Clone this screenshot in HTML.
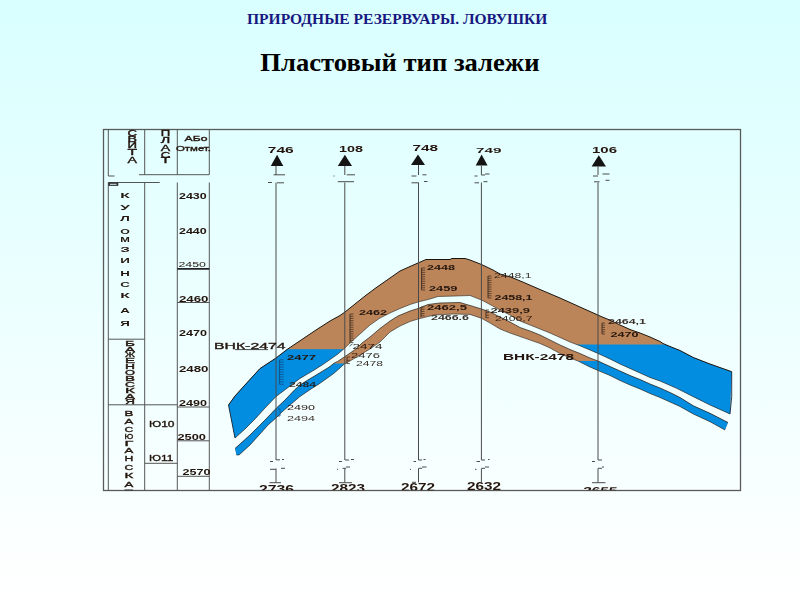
<!DOCTYPE html>
<html><head><meta charset="utf-8">
<style>
html,body{margin:0;padding:0;}
body{width:800px;height:600px;overflow:hidden;background:linear-gradient(to bottom,#d9ffff 0%,#ffffff 100%);font-family:"Liberation Serif",serif;position:relative;}
.t{position:absolute;left:0;width:800px;text-align:center;font-weight:bold;white-space:nowrap;}
#t1{top:9.9px;font-size:14px;color:#17177f;line-height:20px;}
#t1 span{display:inline-block;transform:translateX(-3.2px) scaleX(1.109);}
#t2{top:44.5px;font-size:26px;color:#000;line-height:36px;}
#t2 span{display:inline-block;transform:translateX(-0.5px) scaleX(1.023);}
svg{position:absolute;left:0;top:0;filter:blur(0.45px);}
</style></head><body>
<div class="t" id="t1"><span>ПРИРОДНЫЕ РЕЗЕРВУАРЫ. ЛОВУШКИ</span></div>
<div class="t" id="t2"><span>Пластовый тип залежи</span></div>
<svg id="dg" width="800" height="600" viewBox="0 0 800 600" font-family="Liberation Sans, sans-serif">
<defs>
<clipPath id="cu"><polygon points="228.5,405.0 235.0,396.0 244.0,386.0 260.0,368.5 276.0,358.0 287.0,349.5 316.0,330.0 330.0,321.0 340.0,315.5 345.0,312.0 355.0,304.0 365.0,296.0 375.0,288.5 380.0,285.0 400.0,271.0 410.0,266.5 418.0,263.0 426.0,259.5 450.0,259.5 452.0,258.5 465.0,258.5 470.0,260.0 481.5,264.5 493.0,270.0 500.0,274.0 512.0,277.5 525.0,283.0 540.0,289.5 560.0,298.0 580.0,307.0 600.0,316.0 610.0,320.2 620.0,325.0 630.0,329.5 640.0,333.0 650.0,337.0 660.0,341.5 663.0,343.5 670.0,346.5 680.0,350.5 693.3,357.5 710.0,364.0 731.7,371.7 730.0,414.0 710.0,405.0 693.3,396.7 676.7,388.3 660.0,381.0 650.0,377.5 640.0,373.0 630.0,368.5 620.0,364.0 610.0,359.0 598.0,353.5 590.0,350.0 578.0,345.0 570.0,342.0 560.0,337.5 550.0,333.0 540.0,329.0 530.0,325.0 520.0,321.0 510.0,315.0 500.0,310.0 490.0,304.5 481.5,300.0 470.0,295.5 456.0,296.0 438.0,296.5 430.0,299.0 418.0,302.0 410.0,304.5 400.0,308.5 390.0,313.0 380.0,318.0 370.0,325.0 360.0,334.0 350.0,343.0 344.3,348.6 337.5,354.3 330.0,359.6 322.5,364.7 315.0,369.5 307.5,374.0 300.0,378.4 290.0,386.0 276.0,396.5 265.0,408.0 255.0,419.0 245.0,429.0 235.0,438.0"/></clipPath>
<clipPath id="cl"><polygon points="235.0,448.5 250.0,435.0 265.0,420.0 276.5,408.0 285.0,400.0 295.0,389.5 300.0,385.0 307.5,380.2 315.0,375.7 322.5,371.2 330.0,366.5 334.0,363.2 337.5,361.5 344.3,357.0 356.0,349.0 362.0,343.0 370.0,337.0 380.0,328.5 390.0,321.0 398.0,316.0 410.0,311.0 418.0,308.5 428.0,304.5 440.0,303.0 460.0,302.5 470.0,305.5 481.5,309.0 490.0,312.0 500.0,317.0 510.0,322.0 520.0,327.5 530.0,331.0 540.0,335.0 550.0,340.0 560.0,345.0 570.0,349.5 580.0,353.5 590.0,358.0 598.0,361.0 610.0,366.5 620.0,371.0 630.0,375.5 640.0,379.5 650.0,384.0 660.0,388.0 670.0,392.5 680.0,397.5 693.3,405.8 710.0,413.3 728.0,422.5 725.0,430.0 710.0,421.7 693.3,414.0 680.0,406.5 670.0,402.0 660.0,397.5 650.0,393.5 640.0,389.0 630.0,385.0 620.0,380.5 610.0,375.5 598.0,370.5 590.0,367.0 578.0,361.0 570.0,358.0 560.0,353.5 550.0,348.0 540.0,343.5 530.0,340.0 520.0,336.5 510.0,333.0 500.0,329.0 490.0,323.0 482.0,318.5 470.0,314.4 454.0,314.0 434.0,315.0 418.0,319.0 410.0,321.5 400.0,326.0 390.0,332.0 385.0,337.0 380.0,342.0 370.0,349.0 360.0,355.0 350.0,361.0 344.3,364.0 340.5,367.5 334.0,373.3 326.0,379.0 319.0,384.0 311.0,389.0 300.0,396.5 290.0,405.0 282.0,412.0 276.0,418.0 268.0,425.0 260.0,434.0 250.0,445.0 239.0,455.0 236.5,455.0"/></clipPath>
</defs>
<rect x="103.5" y="129.5" width="637" height="361" fill="none" stroke="#5a5a5a" stroke-width="1.3"/>
<polygon points="228.5,405.0 235.0,396.0 244.0,386.0 260.0,368.5 276.0,358.0 287.0,349.5 316.0,330.0 330.0,321.0 340.0,315.5 345.0,312.0 355.0,304.0 365.0,296.0 375.0,288.5 380.0,285.0 400.0,271.0 410.0,266.5 418.0,263.0 426.0,259.5 450.0,259.5 452.0,258.5 465.0,258.5 470.0,260.0 481.5,264.5 493.0,270.0 500.0,274.0 512.0,277.5 525.0,283.0 540.0,289.5 560.0,298.0 580.0,307.0 600.0,316.0 610.0,320.2 620.0,325.0 630.0,329.5 640.0,333.0 650.0,337.0 660.0,341.5 663.0,343.5 670.0,346.5 680.0,350.5 693.3,357.5 710.0,364.0 731.7,371.7 730.0,414.0 710.0,405.0 693.3,396.7 676.7,388.3 660.0,381.0 650.0,377.5 640.0,373.0 630.0,368.5 620.0,364.0 610.0,359.0 598.0,353.5 590.0,350.0 578.0,345.0 570.0,342.0 560.0,337.5 550.0,333.0 540.0,329.0 530.0,325.0 520.0,321.0 510.0,315.0 500.0,310.0 490.0,304.5 481.5,300.0 470.0,295.5 456.0,296.0 438.0,296.5 430.0,299.0 418.0,302.0 410.0,304.5 400.0,308.5 390.0,313.0 380.0,318.0 370.0,325.0 360.0,334.0 350.0,343.0 344.3,348.6 337.5,354.3 330.0,359.6 322.5,364.7 315.0,369.5 307.5,374.0 300.0,378.4 290.0,386.0 276.0,396.5 265.0,408.0 255.0,419.0 245.0,429.0 235.0,438.0" fill="#bc8459"/>
<polygon points="235.0,448.5 250.0,435.0 265.0,420.0 276.5,408.0 285.0,400.0 295.0,389.5 300.0,385.0 307.5,380.2 315.0,375.7 322.5,371.2 330.0,366.5 334.0,363.2 337.5,361.5 344.3,357.0 356.0,349.0 362.0,343.0 370.0,337.0 380.0,328.5 390.0,321.0 398.0,316.0 410.0,311.0 418.0,308.5 428.0,304.5 440.0,303.0 460.0,302.5 470.0,305.5 481.5,309.0 490.0,312.0 500.0,317.0 510.0,322.0 520.0,327.5 530.0,331.0 540.0,335.0 550.0,340.0 560.0,345.0 570.0,349.5 580.0,353.5 590.0,358.0 598.0,361.0 610.0,366.5 620.0,371.0 630.0,375.5 640.0,379.5 650.0,384.0 660.0,388.0 670.0,392.5 680.0,397.5 693.3,405.8 710.0,413.3 728.0,422.5 725.0,430.0 710.0,421.7 693.3,414.0 680.0,406.5 670.0,402.0 660.0,397.5 650.0,393.5 640.0,389.0 630.0,385.0 620.0,380.5 610.0,375.5 598.0,370.5 590.0,367.0 578.0,361.0 570.0,358.0 560.0,353.5 550.0,348.0 540.0,343.5 530.0,340.0 520.0,336.5 510.0,333.0 500.0,329.0 490.0,323.0 482.0,318.5 470.0,314.4 454.0,314.0 434.0,315.0 418.0,319.0 410.0,321.5 400.0,326.0 390.0,332.0 385.0,337.0 380.0,342.0 370.0,349.0 360.0,355.0 350.0,361.0 344.3,364.0 340.5,367.5 334.0,373.3 326.0,379.0 319.0,384.0 311.0,389.0 300.0,396.5 290.0,405.0 282.0,412.0 276.0,418.0 268.0,425.0 260.0,434.0 250.0,445.0 239.0,455.0 236.5,455.0" fill="#bc8459"/>
<g clip-path="url(#cu)"><rect x="200" y="349.2" width="200" height="120" fill="#028de0"/><rect x="500" y="344.5" width="260" height="100" fill="#028de0"/></g>
<g clip-path="url(#cl)"><rect x="200" y="363.5" width="200" height="120" fill="#028de0"/><rect x="500" y="361" width="260" height="100" fill="#028de0"/></g>
<polyline points="228.5,405.0 235.0,396.0 244.0,386.0 260.0,368.5 276.0,358.0 287.0,349.5 316.0,330.0 330.0,321.0 340.0,315.5 345.0,312.0 355.0,304.0 365.0,296.0 375.0,288.5 380.0,285.0 400.0,271.0 410.0,266.5 418.0,263.0 426.0,259.5 450.0,259.5 452.0,258.5 465.0,258.5 470.0,260.0 481.5,264.5 493.0,270.0 500.0,274.0 512.0,277.5 525.0,283.0 540.0,289.5 560.0,298.0 580.0,307.0 600.0,316.0 610.0,320.2 620.0,325.0 630.0,329.5 640.0,333.0 650.0,337.0 660.0,341.5 663.0,343.5 670.0,346.5 680.0,350.5 693.3,357.5 710.0,364.0 731.7,371.7" fill="none" stroke="#1a140e" stroke-width="1"/>
<polyline points="228.5,405.0 235.0,438.0" fill="none" stroke="#12263c" stroke-width="0.9"/>
<polyline points="731.7,371.7 731.7,396.7 730.0,414.0" fill="none" stroke="#12263c" stroke-width="0.9"/>
<polyline points="235.0,438.0 245.0,429.0 255.0,419.0 265.0,408.0 276.0,396.5 290.0,386.0 300.0,378.4 307.5,374.0 315.0,369.5 322.5,364.7 330.0,359.6 337.5,354.3 344.3,348.6 350.0,343.0 360.0,334.0 370.0,325.0 380.0,318.0 390.0,313.0 400.0,308.5 410.0,304.5 418.0,302.0 430.0,299.0 438.0,296.5 456.0,296.0 470.0,295.5 481.5,300.0 490.0,304.5 500.0,310.0 510.0,315.0 520.0,321.0 530.0,325.0 540.0,329.0 550.0,333.0 560.0,337.5 570.0,342.0 578.0,345.0 590.0,350.0 598.0,353.5 610.0,359.0 620.0,364.0 630.0,368.5 640.0,373.0 650.0,377.5 660.0,381.0 676.7,388.3 693.3,396.7 710.0,405.0 730.0,414.0" fill="none" stroke="#1e1812" stroke-width="0.7" opacity="0.8"/>
<polyline points="235.0,448.5 250.0,435.0 265.0,420.0 276.5,408.0 285.0,400.0 295.0,389.5 300.0,385.0 307.5,380.2 315.0,375.7 322.5,371.2 330.0,366.5 334.0,363.2 337.5,361.5 344.3,357.0 356.0,349.0 362.0,343.0 370.0,337.0 380.0,328.5 390.0,321.0 398.0,316.0 410.0,311.0 418.0,308.5 428.0,304.5 440.0,303.0 460.0,302.5 470.0,305.5 481.5,309.0 490.0,312.0 500.0,317.0 510.0,322.0 520.0,327.5 530.0,331.0 540.0,335.0 550.0,340.0 560.0,345.0 570.0,349.5 580.0,353.5 590.0,358.0 598.0,361.0 610.0,366.5 620.0,371.0 630.0,375.5 640.0,379.5 650.0,384.0 660.0,388.0 670.0,392.5 680.0,397.5 693.3,405.8 710.0,413.3 728.0,422.5" fill="none" stroke="#1e1812" stroke-width="0.8" opacity="0.85"/>
<polyline points="236.5,455.0 239.0,455.0 250.0,445.0 260.0,434.0 268.0,425.0 276.0,418.0 282.0,412.0 290.0,405.0 300.0,396.5 311.0,389.0 319.0,384.0 326.0,379.0 334.0,373.3 340.5,367.5 344.3,364.0 350.0,361.0 360.0,355.0 370.0,349.0 380.0,342.0 385.0,337.0 390.0,332.0 400.0,326.0 410.0,321.5 418.0,319.0 434.0,315.0 454.0,314.0 470.0,314.4 482.0,318.5 490.0,323.0 500.0,329.0 510.0,333.0 520.0,336.5 530.0,340.0 540.0,343.5 550.0,348.0 560.0,353.5 570.0,358.0 578.0,361.0 590.0,367.0 598.0,370.5 610.0,375.5 620.0,380.5 630.0,385.0 640.0,389.0 650.0,393.5 660.0,397.5 670.0,402.0 680.0,406.5 693.3,414.0 710.0,421.7 725.0,430.0" fill="none" stroke="#1e1812" stroke-width="0.7" opacity="0.8"/>
<polygon points="277.1,154.8 270.8,165.9 283.3,165.9" fill="#141414"/>
<line x1="276" y1="165.9" x2="276" y2="175" stroke="#4a4a4a" stroke-width="1"/>
<line x1="276" y1="182.5" x2="276" y2="460" stroke="#4a4a4a" stroke-width="1"/>
<line x1="276" y1="468.5" x2="276" y2="482.5" stroke="#4a4a4a" stroke-width="1"/>
<polygon points="344.9,154.8 337.8,165.9 352,165.9" fill="#141414"/>
<line x1="344.8" y1="165.9" x2="344.8" y2="175" stroke="#4a4a4a" stroke-width="1"/>
<line x1="344.8" y1="182.5" x2="344.8" y2="460" stroke="#4a4a4a" stroke-width="1"/>
<line x1="344.8" y1="468.5" x2="344.8" y2="482.5" stroke="#4a4a4a" stroke-width="1"/>
<polygon points="418.0,154.5 411,165 425,165" fill="#141414"/>
<line x1="418.5" y1="165" x2="418.5" y2="175" stroke="#4a4a4a" stroke-width="1"/>
<line x1="418.5" y1="182.5" x2="418.5" y2="460" stroke="#4a4a4a" stroke-width="1"/>
<line x1="418.5" y1="468.5" x2="418.5" y2="482.5" stroke="#4a4a4a" stroke-width="1"/>
<polygon points="481.6,154.5 475.7,165.5 487.6,165.5" fill="#141414"/>
<line x1="481.4" y1="165.5" x2="481.4" y2="175" stroke="#4a4a4a" stroke-width="1"/>
<line x1="481.4" y1="182.5" x2="481.4" y2="460" stroke="#4a4a4a" stroke-width="1"/>
<line x1="481.4" y1="468.5" x2="481.4" y2="482.5" stroke="#4a4a4a" stroke-width="1"/>
<polygon points="598.8,155.2 591.6,166.4 606,166.4" fill="#141414"/>
<line x1="598" y1="166.4" x2="598" y2="175" stroke="#4a4a4a" stroke-width="1"/>
<line x1="598" y1="182.5" x2="598" y2="460" stroke="#4a4a4a" stroke-width="1"/>
<line x1="598" y1="468.5" x2="598" y2="482.5" stroke="#4a4a4a" stroke-width="1"/>
<line x1="273.6" y1="174.8" x2="285" y2="174.8" stroke="#4a4a4a" stroke-width="1"/>
<line x1="268" y1="182.5" x2="272" y2="182.5" stroke="#4a4a4a" stroke-width="1"/>
<line x1="277" y1="182.8" x2="284" y2="182.8" stroke="#4a4a4a" stroke-width="1"/>
<line x1="346.7" y1="174.8" x2="355" y2="174.8" stroke="#4a4a4a" stroke-width="1"/>
<line x1="337.8" y1="181.7" x2="354" y2="181.7" stroke="#4a4a4a" stroke-width="1"/>
<line x1="333.5" y1="176" x2="334.5" y2="176" stroke="#4a4a4a" stroke-width="1"/>
<line x1="411.5" y1="176" x2="416.5" y2="176" stroke="#4a4a4a" stroke-width="1"/>
<line x1="422.5" y1="174.8" x2="426.5" y2="174.8" stroke="#4a4a4a" stroke-width="1"/>
<line x1="411.5" y1="182.8" x2="418.5" y2="182.8" stroke="#4a4a4a" stroke-width="1"/>
<line x1="424" y1="181.5" x2="427.5" y2="181.5" stroke="#4a4a4a" stroke-width="1"/>
<line x1="474.5" y1="176" x2="477.5" y2="176" stroke="#4a4a4a" stroke-width="1"/>
<line x1="481.4" y1="175" x2="485" y2="175" stroke="#4a4a4a" stroke-width="1"/>
<line x1="485" y1="174" x2="489.5" y2="174" stroke="#4a4a4a" stroke-width="1"/>
<line x1="474.5" y1="182.8" x2="479" y2="182.8" stroke="#4a4a4a" stroke-width="1"/>
<line x1="483.5" y1="181.7" x2="487.5" y2="181.7" stroke="#4a4a4a" stroke-width="1"/>
<line x1="593" y1="176" x2="598" y2="176" stroke="#4a4a4a" stroke-width="1"/>
<line x1="602.5" y1="174" x2="609.5" y2="174" stroke="#4a4a4a" stroke-width="1"/>
<line x1="594" y1="181.8" x2="599.5" y2="181.8" stroke="#4a4a4a" stroke-width="1"/>
<line x1="605.5" y1="180.3" x2="609.5" y2="180.3" stroke="#4a4a4a" stroke-width="1"/>
<line x1="270" y1="461.5" x2="273" y2="461.5" stroke="#4a4a4a" stroke-width="1"/>
<line x1="276" y1="459.8" x2="280" y2="459.8" stroke="#4a4a4a" stroke-width="1"/>
<line x1="282" y1="459.5" x2="284" y2="459.5" stroke="#4a4a4a" stroke-width="1"/>
<line x1="270" y1="469.3" x2="276" y2="469.3" stroke="#4a4a4a" stroke-width="1"/>
<line x1="281" y1="468.3" x2="285" y2="468.3" stroke="#4a4a4a" stroke-width="1"/>
<line x1="269.5" y1="482.7" x2="281" y2="482.7" stroke="#4a4a4a" stroke-width="1"/>
<line x1="339" y1="461.5" x2="342" y2="461.5" stroke="#4a4a4a" stroke-width="1"/>
<line x1="345" y1="460" x2="349" y2="460" stroke="#4a4a4a" stroke-width="1"/>
<line x1="351" y1="459.5" x2="354" y2="459.5" stroke="#4a4a4a" stroke-width="1"/>
<line x1="337" y1="469.3" x2="338" y2="469.3" stroke="#4a4a4a" stroke-width="1"/>
<line x1="342.5" y1="468.3" x2="346" y2="468.3" stroke="#4a4a4a" stroke-width="1"/>
<line x1="346" y1="467" x2="350" y2="467" stroke="#4a4a4a" stroke-width="1"/>
<line x1="339" y1="482.7" x2="352" y2="482.7" stroke="#4a4a4a" stroke-width="1"/>
<line x1="413.5" y1="461.5" x2="416" y2="461.5" stroke="#4a4a4a" stroke-width="1"/>
<line x1="418.5" y1="460" x2="422" y2="460" stroke="#4a4a4a" stroke-width="1"/>
<line x1="423.5" y1="459.5" x2="425.5" y2="459.5" stroke="#4a4a4a" stroke-width="1"/>
<line x1="410" y1="469.3" x2="411" y2="469.3" stroke="#4a4a4a" stroke-width="1"/>
<line x1="418.5" y1="468.3" x2="422" y2="468.3" stroke="#4a4a4a" stroke-width="1"/>
<line x1="422" y1="467" x2="426.5" y2="467" stroke="#4a4a4a" stroke-width="1"/>
<line x1="412" y1="482.3" x2="416" y2="482.3" stroke="#4a4a4a" stroke-width="1"/>
<line x1="476.5" y1="461.5" x2="480" y2="461.5" stroke="#4a4a4a" stroke-width="1"/>
<line x1="481.4" y1="460" x2="485" y2="460" stroke="#4a4a4a" stroke-width="1"/>
<line x1="488" y1="459.5" x2="489.5" y2="459.5" stroke="#4a4a4a" stroke-width="1"/>
<line x1="475" y1="469.3" x2="476.5" y2="469.3" stroke="#4a4a4a" stroke-width="1"/>
<line x1="481.4" y1="468.3" x2="485" y2="468.3" stroke="#4a4a4a" stroke-width="1"/>
<line x1="485" y1="467" x2="489" y2="467" stroke="#4a4a4a" stroke-width="1"/>
<line x1="592" y1="461.5" x2="595" y2="461.5" stroke="#4a4a4a" stroke-width="1"/>
<line x1="598" y1="460" x2="602" y2="460" stroke="#4a4a4a" stroke-width="1"/>
<line x1="598" y1="468.3" x2="602" y2="468.3" stroke="#4a4a4a" stroke-width="1"/>
<line x1="602" y1="467" x2="604" y2="467" stroke="#4a4a4a" stroke-width="1"/>
<line x1="592" y1="482.7" x2="605.5" y2="482.7" stroke="#4a4a4a" stroke-width="1"/>
<line x1="108.3" y1="130" x2="108.3" y2="176" stroke="#555" stroke-width="1"/>
<line x1="108.3" y1="176" x2="114.5" y2="176" stroke="#555" stroke-width="1"/>
<line x1="144.7" y1="130" x2="144.7" y2="174.7" stroke="#555" stroke-width="1"/>
<line x1="177.3" y1="130" x2="177.3" y2="174.7" stroke="#555" stroke-width="1"/>
<line x1="209.3" y1="130" x2="209.3" y2="174.7" stroke="#555" stroke-width="1"/>
<line x1="139" y1="174.7" x2="209.3" y2="174.7" stroke="#555" stroke-width="1"/>
<line x1="108.3" y1="182.5" x2="108.3" y2="490.5" stroke="#555" stroke-width="1"/>
<line x1="108.3" y1="182.5" x2="159.7" y2="182.5" stroke="#555" stroke-width="1"/>
<line x1="144.7" y1="182.5" x2="144.7" y2="490.5" stroke="#555" stroke-width="1"/>
<line x1="177.3" y1="182.5" x2="177.3" y2="490.5" stroke="#555" stroke-width="1"/>
<line x1="209.3" y1="182.5" x2="209.3" y2="490.5" stroke="#555" stroke-width="1"/>
<line x1="108.3" y1="339.2" x2="144.7" y2="339.2" stroke="#555" stroke-width="1"/>
<line x1="108.3" y1="404.8" x2="177.3" y2="404.8" stroke="#555" stroke-width="1"/>
<line x1="144.7" y1="463.3" x2="177.3" y2="463.3" stroke="#555" stroke-width="1"/>
<line x1="177.3" y1="302.5" x2="209.3" y2="302.5" stroke="#555" stroke-width="1"/>
<line x1="177.3" y1="407" x2="209.3" y2="407" stroke="#555" stroke-width="1"/>
<line x1="177.3" y1="440.8" x2="209.3" y2="440.8" stroke="#555" stroke-width="1"/>
<line x1="177.3" y1="476.3" x2="209.3" y2="476.3" stroke="#555" stroke-width="1"/>
<line x1="177.3" y1="268.8" x2="209.3" y2="268.8" stroke="#222" stroke-width="1.8"/>
<rect x="108.3" y="182.3" width="10" height="3.6" fill="#333"/><rect x="110" y="183.8" width="6.5" height="1" fill="#cfeeee"/>
<text x="267.8" y="152.6" textLength="26.0" lengthAdjust="spacingAndGlyphs" font-size="9.4" font-weight="bold" fill="#24160e" opacity="1" >746</text>
<text x="339" y="152.3" textLength="24.0" lengthAdjust="spacingAndGlyphs" font-size="9.2" font-weight="bold" fill="#24160e" opacity="1" >108</text>
<text x="412.4" y="151.4" textLength="25.6" lengthAdjust="spacingAndGlyphs" font-size="9.4" font-weight="bold" fill="#24160e" opacity="1" >748</text>
<text x="476" y="153.2" textLength="25.4" lengthAdjust="spacingAndGlyphs" font-size="8" font-weight="bold" fill="#24160e" opacity="1" >749</text>
<text x="592" y="153.4" textLength="25.0" lengthAdjust="spacingAndGlyphs" font-size="9.4" font-weight="bold" fill="#24160e" opacity="1" >106</text>
<clipPath id="cb"><rect x="104" y="130" width="636" height="360.3"/></clipPath><g clip-path="url(#cb)">
<text x="259" y="493.1" textLength="35.0" lengthAdjust="spacingAndGlyphs" font-size="10" font-weight="bold" fill="#24160e" opacity="1" >2736</text>
<text x="331" y="492.1" textLength="34.0" lengthAdjust="spacingAndGlyphs" font-size="10" font-weight="bold" fill="#24160e" opacity="1" >2823</text>
<text x="401" y="491.1" textLength="34.0" lengthAdjust="spacingAndGlyphs" font-size="10" font-weight="bold" fill="#24160e" opacity="1" >2672</text>
<text x="467" y="490.1" textLength="34.0" lengthAdjust="spacingAndGlyphs" font-size="10" font-weight="bold" fill="#24160e" opacity="1" >2632</text>
<text transform="translate(582.5,493.6) skewX(-10)" x="0" y="0" textLength="34" lengthAdjust="spacingAndGlyphs" font-size="10" font-weight="bold" fill="#24160e">2655</text>
</g>
<text x="179" y="198.8" textLength="27.7" lengthAdjust="spacingAndGlyphs" font-size="8.3" font-weight="bold" fill="#24160e" opacity="1" >2430</text>
<text x="179" y="233.8" textLength="27.7" lengthAdjust="spacingAndGlyphs" font-size="8.3" font-weight="bold" fill="#24160e" opacity="1" >2440</text>
<text x="178.5" y="266.6" textLength="27.5" lengthAdjust="spacingAndGlyphs" font-size="7" font-weight="normal" fill="#24160e" opacity="1" >2450</text>
<text x="179" y="302.0" textLength="29.5" lengthAdjust="spacingAndGlyphs" font-size="8.3" font-weight="bold" fill="#24160e" opacity="1" >2460</text>
<text x="179" y="336.3" textLength="28.0" lengthAdjust="spacingAndGlyphs" font-size="8.3" font-weight="bold" fill="#24160e" opacity="1" >2470</text>
<text x="179" y="371.5" textLength="29.5" lengthAdjust="spacingAndGlyphs" font-size="8.3" font-weight="bold" fill="#24160e" opacity="1" >2480</text>
<text x="179" y="405.7" textLength="28.0" lengthAdjust="spacingAndGlyphs" font-size="8.3" font-weight="bold" fill="#24160e" opacity="1" >2490</text>
<text x="177.5" y="440.0" textLength="28.5" lengthAdjust="spacingAndGlyphs" font-size="8.3" font-weight="bold" fill="#24160e" opacity="1" >2500</text>
<text x="182.5" y="475.0" textLength="28.0" lengthAdjust="spacingAndGlyphs" font-size="8.3" font-weight="bold" fill="#24160e" opacity="1" >2570</text>
<text x="149" y="426.7" textLength="25.5" lengthAdjust="spacingAndGlyphs" font-size="8.3" font-weight="normal" fill="#24160e" opacity="1"  stroke="#24160e" stroke-width="0.35">Ю10</text>
<text x="149" y="460.5" textLength="24.3" lengthAdjust="spacingAndGlyphs" font-size="8.3" font-weight="normal" fill="#24160e" opacity="1"  stroke="#24160e" stroke-width="0.35">Ю11</text>
<text x="184.5" y="141.3" textLength="23.0" lengthAdjust="spacingAndGlyphs" font-size="8" font-weight="normal" fill="#24160e" opacity="1"  stroke="#24160e" stroke-width="0.35">АБо</text>
<text x="176" y="150.6" textLength="35.0" lengthAdjust="spacingAndGlyphs" font-size="7.6" font-weight="normal" fill="#24160e" opacity="1"  stroke="#24160e" stroke-width="0.35">Отмет.</text>
<text x="127.55000000000001" y="135.5" textLength="9.5" lengthAdjust="spacingAndGlyphs" font-size="8.2" font-weight="normal" fill="#24160e" opacity="1"  stroke="#24160e" stroke-width="0.35">С</text><text x="127.55000000000001" y="141.5" textLength="9.5" lengthAdjust="spacingAndGlyphs" font-size="8.2" font-weight="normal" fill="#24160e" opacity="1"  stroke="#24160e" stroke-width="0.35">В</text><text x="127.55000000000001" y="147.7" textLength="9.5" lengthAdjust="spacingAndGlyphs" font-size="8.2" font-weight="normal" fill="#24160e" opacity="1"  stroke="#24160e" stroke-width="0.35">И</text><text x="127.55000000000001" y="154.7" textLength="9.5" lengthAdjust="spacingAndGlyphs" font-size="8.2" font-weight="normal" fill="#24160e" opacity="1"  stroke="#24160e" stroke-width="0.35">Т</text><text x="127.55000000000001" y="162.7" textLength="9.5" lengthAdjust="spacingAndGlyphs" font-size="8.2" font-weight="normal" fill="#24160e" opacity="1"  stroke="#24160e" stroke-width="0.35">А</text>
<text x="160.75" y="135.5" textLength="9.5" lengthAdjust="spacingAndGlyphs" font-size="8.2" font-weight="normal" fill="#24160e" opacity="1"  stroke="#24160e" stroke-width="0.35">П</text><text x="160.75" y="142.5" textLength="9.5" lengthAdjust="spacingAndGlyphs" font-size="8.2" font-weight="normal" fill="#24160e" opacity="1"  stroke="#24160e" stroke-width="0.35">Л</text><text x="160.75" y="151.0" textLength="9.5" lengthAdjust="spacingAndGlyphs" font-size="8.2" font-weight="normal" fill="#24160e" opacity="1"  stroke="#24160e" stroke-width="0.35">А</text><text x="160.75" y="157.5" textLength="9.5" lengthAdjust="spacingAndGlyphs" font-size="8.2" font-weight="normal" fill="#24160e" opacity="1"  stroke="#24160e" stroke-width="0.35">С</text><text x="160.75" y="163.0" textLength="9.5" lengthAdjust="spacingAndGlyphs" font-size="8.2" font-weight="normal" fill="#24160e" opacity="1"  stroke="#24160e" stroke-width="0.35">Т</text>
<text x="120.2" y="197.6" textLength="9.6" lengthAdjust="spacingAndGlyphs" font-size="8" font-weight="bold" fill="#24160e" opacity="1" >К</text><text x="120.2" y="209.9" textLength="9.6" lengthAdjust="spacingAndGlyphs" font-size="8" font-weight="bold" fill="#24160e" opacity="1" >У</text><text x="120.2" y="221.2" textLength="9.6" lengthAdjust="spacingAndGlyphs" font-size="8" font-weight="bold" fill="#24160e" opacity="1" >Л</text><text x="120.2" y="233.7" textLength="9.6" lengthAdjust="spacingAndGlyphs" font-size="8" font-weight="bold" fill="#24160e" opacity="1" >О</text><text x="120.2" y="241.9" textLength="9.6" lengthAdjust="spacingAndGlyphs" font-size="8" font-weight="bold" fill="#24160e" opacity="1" >М</text><text x="120.2" y="251.6" textLength="9.6" lengthAdjust="spacingAndGlyphs" font-size="8" font-weight="bold" fill="#24160e" opacity="1" >З</text><text x="120.2" y="262.9" textLength="9.6" lengthAdjust="spacingAndGlyphs" font-size="8" font-weight="bold" fill="#24160e" opacity="1" >И</text><text x="120.2" y="275.9" textLength="9.6" lengthAdjust="spacingAndGlyphs" font-size="8" font-weight="bold" fill="#24160e" opacity="1" >Н</text><text x="120.2" y="286.9" textLength="9.6" lengthAdjust="spacingAndGlyphs" font-size="8" font-weight="bold" fill="#24160e" opacity="1" >С</text><text x="120.2" y="297.9" textLength="9.6" lengthAdjust="spacingAndGlyphs" font-size="8" font-weight="bold" fill="#24160e" opacity="1" >К</text><text x="120.2" y="312.6" textLength="9.6" lengthAdjust="spacingAndGlyphs" font-size="8" font-weight="bold" fill="#24160e" opacity="1" >А</text><text x="120.2" y="325.9" textLength="9.6" lengthAdjust="spacingAndGlyphs" font-size="8" font-weight="bold" fill="#24160e" opacity="1" >Я</text>
<text x="125.0" y="346.4" textLength="10.0" lengthAdjust="spacingAndGlyphs" font-size="8" font-weight="normal" fill="#24160e" opacity="1"  stroke="#24160e" stroke-width="0.35">Б</text><text x="125.0" y="351.9" textLength="10.0" lengthAdjust="spacingAndGlyphs" font-size="8" font-weight="normal" fill="#24160e" opacity="1"  stroke="#24160e" stroke-width="0.35">А</text><text x="125.0" y="357.4" textLength="10.0" lengthAdjust="spacingAndGlyphs" font-size="8" font-weight="normal" fill="#24160e" opacity="1"  stroke="#24160e" stroke-width="0.35">Ж</text><text x="125.0" y="363.4" textLength="10.0" lengthAdjust="spacingAndGlyphs" font-size="8" font-weight="normal" fill="#24160e" opacity="1"  stroke="#24160e" stroke-width="0.35">Е</text><text x="125.0" y="369.4" textLength="10.0" lengthAdjust="spacingAndGlyphs" font-size="8" font-weight="normal" fill="#24160e" opacity="1"  stroke="#24160e" stroke-width="0.35">Н</text><text x="125.0" y="375.4" textLength="10.0" lengthAdjust="spacingAndGlyphs" font-size="8" font-weight="normal" fill="#24160e" opacity="1"  stroke="#24160e" stroke-width="0.35">О</text><text x="125.0" y="381.4" textLength="10.0" lengthAdjust="spacingAndGlyphs" font-size="8" font-weight="normal" fill="#24160e" opacity="1"  stroke="#24160e" stroke-width="0.35">В</text><text x="125.0" y="386.9" textLength="10.0" lengthAdjust="spacingAndGlyphs" font-size="8" font-weight="normal" fill="#24160e" opacity="1"  stroke="#24160e" stroke-width="0.35">С</text><text x="125.0" y="392.9" textLength="10.0" lengthAdjust="spacingAndGlyphs" font-size="8" font-weight="normal" fill="#24160e" opacity="1"  stroke="#24160e" stroke-width="0.35">К</text><text x="125.0" y="398.9" textLength="10.0" lengthAdjust="spacingAndGlyphs" font-size="8" font-weight="normal" fill="#24160e" opacity="1"  stroke="#24160e" stroke-width="0.35">А</text><text x="125.0" y="404.4" textLength="10.0" lengthAdjust="spacingAndGlyphs" font-size="8" font-weight="normal" fill="#24160e" opacity="1"  stroke="#24160e" stroke-width="0.35">Я</text>
<text x="124.6" y="416.1" textLength="8.8" lengthAdjust="spacingAndGlyphs" font-size="7.8" font-weight="normal" fill="#24160e" opacity="1"  stroke="#24160e" stroke-width="0.35">В</text><text x="124.6" y="423.6" textLength="8.8" lengthAdjust="spacingAndGlyphs" font-size="7.8" font-weight="normal" fill="#24160e" opacity="1"  stroke="#24160e" stroke-width="0.35">А</text><text x="124.6" y="431.8" textLength="8.8" lengthAdjust="spacingAndGlyphs" font-size="7.8" font-weight="normal" fill="#24160e" opacity="1"  stroke="#24160e" stroke-width="0.35">С</text><text x="124.6" y="438.6" textLength="8.8" lengthAdjust="spacingAndGlyphs" font-size="7.8" font-weight="normal" fill="#24160e" opacity="1"  stroke="#24160e" stroke-width="0.35">Ю</text><text x="124.6" y="445.8" textLength="8.8" lengthAdjust="spacingAndGlyphs" font-size="7.8" font-weight="normal" fill="#24160e" opacity="1"  stroke="#24160e" stroke-width="0.35">Г</text><text x="124.6" y="452.8" textLength="8.8" lengthAdjust="spacingAndGlyphs" font-size="7.8" font-weight="normal" fill="#24160e" opacity="1"  stroke="#24160e" stroke-width="0.35">А</text><text x="124.6" y="460.8" textLength="8.8" lengthAdjust="spacingAndGlyphs" font-size="7.8" font-weight="normal" fill="#24160e" opacity="1"  stroke="#24160e" stroke-width="0.35">Н</text><text x="124.6" y="470.3" textLength="8.8" lengthAdjust="spacingAndGlyphs" font-size="7.8" font-weight="normal" fill="#24160e" opacity="1"  stroke="#24160e" stroke-width="0.35">С</text><text x="124.6" y="477.8" textLength="8.8" lengthAdjust="spacingAndGlyphs" font-size="7.8" font-weight="normal" fill="#24160e" opacity="1"  stroke="#24160e" stroke-width="0.35">К</text><text x="124.6" y="486.8" textLength="8.8" lengthAdjust="spacingAndGlyphs" font-size="7.8" font-weight="normal" fill="#24160e" opacity="1"  stroke="#24160e" stroke-width="0.35">А</text>
<line x1="124.5" y1="490" x2="133" y2="490" stroke="#333" stroke-width="1"/>
<text x="214" y="349.0" textLength="71.5" lengthAdjust="spacingAndGlyphs" font-size="9.4" font-weight="normal" fill="#24160e" opacity="1"  stroke="#24160e" stroke-width="0.35">ВНК-2474</text>
<line x1="235" y1="349.6" x2="268" y2="349.6" stroke="#222" stroke-width="0.8"/>
<text x="503" y="359.6" textLength="71.0" lengthAdjust="spacingAndGlyphs" font-size="9.2" font-weight="bold" fill="#24160e" opacity="1" >ВНК-2478</text>
<text x="287" y="359.5" textLength="29.0" lengthAdjust="spacingAndGlyphs" font-size="7.5" font-weight="bold" fill="#24160e" opacity="1" >2477</text>
<text x="289" y="387.1" textLength="27.0" lengthAdjust="spacingAndGlyphs" font-size="7.5" font-weight="bold" fill="#24160e" opacity="0.85" >2484</text>
<text x="287" y="409.7" textLength="28.0" lengthAdjust="spacingAndGlyphs" font-size="7.5" font-weight="normal" fill="#24160e" opacity="1" >2490</text>
<text x="287" y="420.7" textLength="28.0" lengthAdjust="spacingAndGlyphs" font-size="7.5" font-weight="normal" fill="#24160e" opacity="0.9" >2494</text>
<text x="359" y="315.1" textLength="28.0" lengthAdjust="spacingAndGlyphs" font-size="7.5" font-weight="bold" fill="#24160e" opacity="1" >2462</text>
<text x="352.5" y="348.5" textLength="30.0" lengthAdjust="spacingAndGlyphs" font-size="7.5" font-weight="normal" fill="#24160e" opacity="1" >2474</text>
<text x="351" y="357.7" textLength="29.0" lengthAdjust="spacingAndGlyphs" font-size="7.5" font-weight="normal" fill="#24160e" opacity="0.9" >2476</text>
<text x="356" y="366.4" textLength="27.0" lengthAdjust="spacingAndGlyphs" font-size="7.5" font-weight="normal" fill="#24160e" opacity="0.9" >2478</text>
<text x="427" y="269.7" textLength="28.0" lengthAdjust="spacingAndGlyphs" font-size="7.5" font-weight="bold" fill="#24160e" opacity="1" >2448</text>
<text x="429" y="290.5" textLength="28.5" lengthAdjust="spacingAndGlyphs" font-size="7.5" font-weight="bold" fill="#24160e" opacity="1" >2459</text>
<text x="427" y="309.7" textLength="40.0" lengthAdjust="spacingAndGlyphs" font-size="7.5" font-weight="bold" fill="#24160e" opacity="1" >2462,5</text>
<text x="431" y="319.7" textLength="38.0" lengthAdjust="spacingAndGlyphs" font-size="7.5" font-weight="bold" fill="#24160e" opacity="0.9" >2466.6</text>
<text x="494" y="278.1" textLength="37.5" lengthAdjust="spacingAndGlyphs" font-size="7.5" font-weight="normal" fill="#24160e" opacity="0.9" >2448,1</text>
<text x="494.5" y="299.8" textLength="38.0" lengthAdjust="spacingAndGlyphs" font-size="7.5" font-weight="bold" fill="#24160e" opacity="1" >2458,1</text>
<text x="490.5" y="312.9" textLength="39.5" lengthAdjust="spacingAndGlyphs" font-size="7.5" font-weight="bold" fill="#24160e" opacity="0.95" >2439,9</text>
<text x="495" y="321.2" textLength="37.5" lengthAdjust="spacingAndGlyphs" font-size="7.5" font-weight="normal" fill="#24160e" opacity="0.9" >2406,7</text>
<text x="608" y="324.0" textLength="38.0" lengthAdjust="spacingAndGlyphs" font-size="7.5" font-weight="bold" fill="#24160e" opacity="0.9" >2464,1</text>
<text x="610.5" y="336.5" textLength="28.0" lengthAdjust="spacingAndGlyphs" font-size="7.5" font-weight="bold" fill="#24160e" opacity="1" >2470</text>
<line x1="279.6" y1="359.8" x2="279.6" y2="384.4" stroke="#134a80" stroke-width="0.9"/><line x1="279.6" y1="359.8" x2="283.8" y2="359.8" stroke="#134a80" stroke-width="0.7"/><line x1="279.6" y1="362.2" x2="283.8" y2="362.2" stroke="#134a80" stroke-width="0.7"/><line x1="279.6" y1="364.7" x2="283.8" y2="364.7" stroke="#134a80" stroke-width="0.7"/><line x1="279.6" y1="367.1" x2="283.8" y2="367.1" stroke="#134a80" stroke-width="0.7"/><line x1="279.6" y1="369.6" x2="283.8" y2="369.6" stroke="#134a80" stroke-width="0.7"/><line x1="279.6" y1="372.0" x2="283.8" y2="372.0" stroke="#134a80" stroke-width="0.7"/><line x1="279.6" y1="374.5" x2="283.8" y2="374.5" stroke="#134a80" stroke-width="0.7"/><line x1="279.6" y1="376.9" x2="283.8" y2="376.9" stroke="#134a80" stroke-width="0.7"/><line x1="279.6" y1="379.4" x2="283.8" y2="379.4" stroke="#134a80" stroke-width="0.7"/><line x1="279.6" y1="381.8" x2="283.8" y2="381.8" stroke="#134a80" stroke-width="0.7"/><line x1="279.6" y1="384.3" x2="283.8" y2="384.3" stroke="#134a80" stroke-width="0.7"/>
<line x1="350" y1="314" x2="350" y2="343" stroke="#3a2a20" stroke-width="0.9"/><line x1="350" y1="314.0" x2="353.5" y2="314.0" stroke="#3a2a20" stroke-width="0.7"/><line x1="350" y1="316.2" x2="353.5" y2="316.2" stroke="#3a2a20" stroke-width="0.7"/><line x1="350" y1="318.4" x2="353.5" y2="318.4" stroke="#3a2a20" stroke-width="0.7"/><line x1="350" y1="320.6" x2="353.5" y2="320.6" stroke="#3a2a20" stroke-width="0.7"/><line x1="350" y1="322.8" x2="353.5" y2="322.8" stroke="#3a2a20" stroke-width="0.7"/><line x1="350" y1="325.0" x2="353.5" y2="325.0" stroke="#3a2a20" stroke-width="0.7"/><line x1="350" y1="327.2" x2="353.5" y2="327.2" stroke="#3a2a20" stroke-width="0.7"/><line x1="350" y1="329.4" x2="353.5" y2="329.4" stroke="#3a2a20" stroke-width="0.7"/><line x1="350" y1="331.6" x2="353.5" y2="331.6" stroke="#3a2a20" stroke-width="0.7"/><line x1="350" y1="333.8" x2="353.5" y2="333.8" stroke="#3a2a20" stroke-width="0.7"/><line x1="350" y1="336.0" x2="353.5" y2="336.0" stroke="#3a2a20" stroke-width="0.7"/><line x1="350" y1="338.2" x2="353.5" y2="338.2" stroke="#3a2a20" stroke-width="0.7"/><line x1="350" y1="340.4" x2="353.5" y2="340.4" stroke="#3a2a20" stroke-width="0.7"/><line x1="350" y1="342.6" x2="353.5" y2="342.6" stroke="#3a2a20" stroke-width="0.7"/>
<line x1="421.6" y1="268" x2="421.6" y2="290" stroke="#3a2a20" stroke-width="0.9"/><line x1="421.6" y1="268.0" x2="425.1" y2="268.0" stroke="#3a2a20" stroke-width="0.7"/><line x1="421.6" y1="270.2" x2="425.1" y2="270.2" stroke="#3a2a20" stroke-width="0.7"/><line x1="421.6" y1="272.4" x2="425.1" y2="272.4" stroke="#3a2a20" stroke-width="0.7"/><line x1="421.6" y1="274.6" x2="425.1" y2="274.6" stroke="#3a2a20" stroke-width="0.7"/><line x1="421.6" y1="276.8" x2="425.1" y2="276.8" stroke="#3a2a20" stroke-width="0.7"/><line x1="421.6" y1="279.0" x2="425.1" y2="279.0" stroke="#3a2a20" stroke-width="0.7"/><line x1="421.6" y1="281.2" x2="425.1" y2="281.2" stroke="#3a2a20" stroke-width="0.7"/><line x1="421.6" y1="283.4" x2="425.1" y2="283.4" stroke="#3a2a20" stroke-width="0.7"/><line x1="421.6" y1="285.6" x2="425.1" y2="285.6" stroke="#3a2a20" stroke-width="0.7"/><line x1="421.6" y1="287.8" x2="425.1" y2="287.8" stroke="#3a2a20" stroke-width="0.7"/><line x1="421.6" y1="290.0" x2="425.1" y2="290.0" stroke="#3a2a20" stroke-width="0.7"/>
<line x1="421" y1="307" x2="421" y2="317" stroke="#3a2a20" stroke-width="0.9"/><line x1="421" y1="307.0" x2="424.5" y2="307.0" stroke="#3a2a20" stroke-width="0.7"/><line x1="421" y1="309.2" x2="424.5" y2="309.2" stroke="#3a2a20" stroke-width="0.7"/><line x1="421" y1="311.4" x2="424.5" y2="311.4" stroke="#3a2a20" stroke-width="0.7"/><line x1="421" y1="313.6" x2="424.5" y2="313.6" stroke="#3a2a20" stroke-width="0.7"/><line x1="421" y1="315.8" x2="424.5" y2="315.8" stroke="#3a2a20" stroke-width="0.7"/>
<line x1="488" y1="276" x2="488" y2="298" stroke="#3a2a20" stroke-width="0.9"/><line x1="488" y1="276.0" x2="491.5" y2="276.0" stroke="#3a2a20" stroke-width="0.7"/><line x1="488" y1="278.2" x2="491.5" y2="278.2" stroke="#3a2a20" stroke-width="0.7"/><line x1="488" y1="280.4" x2="491.5" y2="280.4" stroke="#3a2a20" stroke-width="0.7"/><line x1="488" y1="282.6" x2="491.5" y2="282.6" stroke="#3a2a20" stroke-width="0.7"/><line x1="488" y1="284.8" x2="491.5" y2="284.8" stroke="#3a2a20" stroke-width="0.7"/><line x1="488" y1="287.0" x2="491.5" y2="287.0" stroke="#3a2a20" stroke-width="0.7"/><line x1="488" y1="289.2" x2="491.5" y2="289.2" stroke="#3a2a20" stroke-width="0.7"/><line x1="488" y1="291.4" x2="491.5" y2="291.4" stroke="#3a2a20" stroke-width="0.7"/><line x1="488" y1="293.6" x2="491.5" y2="293.6" stroke="#3a2a20" stroke-width="0.7"/><line x1="488" y1="295.8" x2="491.5" y2="295.8" stroke="#3a2a20" stroke-width="0.7"/><line x1="488" y1="298.0" x2="491.5" y2="298.0" stroke="#3a2a20" stroke-width="0.7"/>
<line x1="486" y1="310" x2="486" y2="318" stroke="#3a2a20" stroke-width="0.9"/><line x1="486" y1="310.0" x2="489" y2="310.0" stroke="#3a2a20" stroke-width="0.7"/><line x1="486" y1="312.6" x2="489" y2="312.6" stroke="#3a2a20" stroke-width="0.7"/><line x1="486" y1="315.2" x2="489" y2="315.2" stroke="#3a2a20" stroke-width="0.7"/><line x1="486" y1="317.8" x2="489" y2="317.8" stroke="#3a2a20" stroke-width="0.7"/>
<line x1="602" y1="323" x2="602" y2="334" stroke="#3a2a20" stroke-width="0.9"/><line x1="602" y1="323.0" x2="605" y2="323.0" stroke="#3a2a20" stroke-width="0.7"/><line x1="602" y1="325.2" x2="605" y2="325.2" stroke="#3a2a20" stroke-width="0.7"/><line x1="602" y1="327.4" x2="605" y2="327.4" stroke="#3a2a20" stroke-width="0.7"/><line x1="602" y1="329.6" x2="605" y2="329.6" stroke="#3a2a20" stroke-width="0.7"/><line x1="602" y1="331.8" x2="605" y2="331.8" stroke="#3a2a20" stroke-width="0.7"/><line x1="602" y1="334.0" x2="605" y2="334.0" stroke="#3a2a20" stroke-width="0.7"/>
<line x1="347" y1="357" x2="347" y2="364" stroke="#3a2a20" stroke-width="0.9"/><line x1="347" y1="357.0" x2="350" y2="357.0" stroke="#3a2a20" stroke-width="0.7"/><line x1="347" y1="360.3" x2="350" y2="360.3" stroke="#3a2a20" stroke-width="0.7"/><line x1="347" y1="363.6" x2="350" y2="363.6" stroke="#3a2a20" stroke-width="0.7"/>
<path d="M278 409 l2 0 l0 7 l-2 0" fill="none" stroke="#1d4f86" stroke-width="0.8"/>
<path d="M349.5 346 l3 -2" fill="none" stroke="#333" stroke-width="0.8"/>
</svg>
</body></html>
